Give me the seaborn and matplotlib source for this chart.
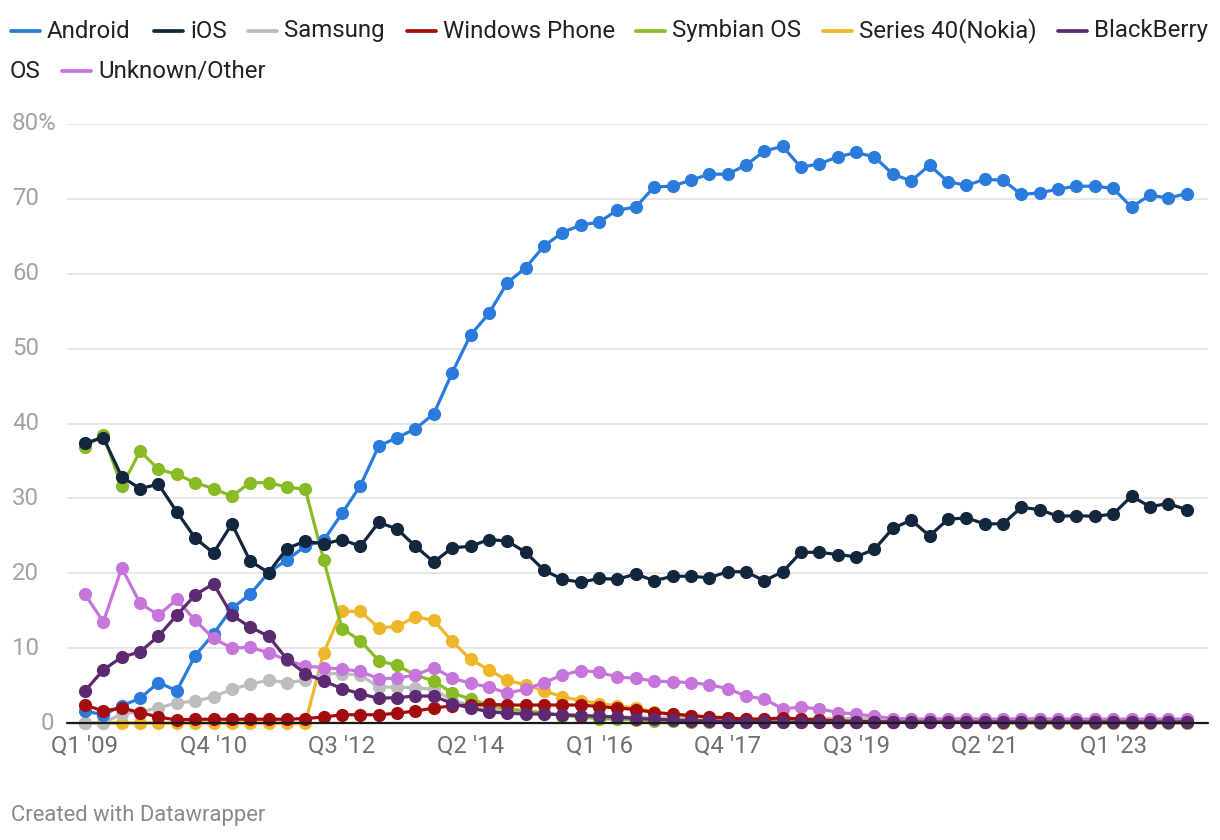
import numpy as np
import pandas as pd
import matplotlib
matplotlib.use("Agg")
import matplotlib.pyplot as plt
import matplotlib.transforms as mtrans
from matplotlib.lines import Line2D
import seaborn as sns

# ---------------- data ----------------
quarters = [f"Q{q} '{y:02d}" for y in range(9, 25) for q in range(1, 5)][:61]
tick_labels = ["Q1 '09", "Q4 '10", "Q3 '12", "Q2 '14", "Q1 '16", "Q4 '17", "Q3 '19", "Q2 '21", "Q1 '23"]

android = [1.6, 1.1, 2.3, 3.3, 5.4, 4.3, 9.0, 11.9, 15.3, 17.2,
           20.1, 21.8, 23.6, 24.4, 28.0, 31.7, 37.0, 38.1, 39.3, 41.3,
           46.8, 51.8, 54.7, 58.8, 60.8, 63.7, 65.5, 66.5, 66.9, 68.5,
           68.9, 71.6, 71.7, 72.5, 73.3, 73.3, 74.5, 76.4, 77.0, 74.2,
           74.7, 75.6, 76.2, 75.6, 73.3, 72.4, 74.5, 72.3, 71.8, 72.6,
           72.5, 70.6, 70.8, 71.3, 71.7, 71.7, 71.4, 68.9, 70.5, 70.1,
           70.7]
ios = [37.4, 38.1, 32.9, 31.3, 31.9, 28.2, 24.7, 22.7, 26.6, 21.6,
       20.1, 23.3, 24.3, 23.9, 24.5, 23.6, 26.8, 25.9, 23.6, 21.5,
       23.4, 23.6, 24.5, 24.3, 22.8, 20.4, 19.2, 18.8, 19.3, 19.2,
       19.9, 19.0, 19.6, 19.6, 19.4, 20.2, 20.2, 19.0, 20.2, 22.8,
       22.8, 22.5, 22.2, 23.2, 26.0, 27.1, 25.0, 27.2, 27.4, 26.6,
       26.6, 28.8, 28.5, 27.6, 27.7, 27.6, 27.9, 30.3, 28.9, 29.3,
       28.5]
samsung = [0.0, 0.0, 1.2, 1.5, 2.0, 2.7, 2.9, 3.5, 4.5, 5.2,
           5.7, 5.4, 5.7, 6.6, 6.6, 6.4, 4.8, 4.8, 4.7, 4.5,
           3.0, 2.4, 1.9, 1.6, 1.4, 1.2, 1.1, 1.0, 0.9, 0.8,
           0.8, 0.7, 0.7, 0.6, 0.6, 0.6, 0.6, 0.6, 0.6, 0.6,
           0.6, 0.6, 0.6, 0.6, 0.6, 0.5, 0.5, 0.6, 0.6, 0.5,
           0.5, 0.6, 0.6, 0.5, 0.5, 0.5, 0.5, 0.5, 0.5, 0.5,
           0.5]
windows = [2.4, 1.6, 2.0, 1.4, 0.8, 0.4, 0.5, 0.5, 0.5, 0.5,
           0.5, 0.5, 0.6, 0.8, 1.1, 1.1, 1.1, 1.3, 1.6, 2.0,
           2.3, 2.4, 2.5, 2.4, 2.4, 2.4, 2.4, 2.4, 2.2, 2.0,
           1.8, 1.4, 1.2, 1.0, 0.8, 0.7, 0.5, 0.5, 0.7, 0.5,
           0.4, 0.3, 0.2, 0.2, 0.1, 0.1, 0.1, 0.1, 0.1, 0.1,
           0.1, 0.1, 0.1, 0.1, 0.1, 0.1, 0.1, 0.1, 0.1, 0.1,
           0.1]
symbian = [36.9, 38.5, 31.6, 36.3, 33.9, 33.2, 32.1, 31.3, 30.3, 32.1,
           32.1, 31.5, 31.2, 21.8, 12.6, 11.0, 8.3, 7.7, 6.4, 5.6,
           4.0, 3.2, 2.4, 1.9, 1.6, 1.4, 1.0, 0.8, 0.6, 0.5,
           0.4, 0.3, 0.3, 0.2, 0.2, 0.2, 0.1, 0.1, 0.1, 0.1,
           0.1, 0.1, 0.1, 0.1, 0.1, 0.1, 0.1, 0.1, 0.1, 0.1,
           0.0, 0.0, 0.0, 0.0, 0.0, 0.0, 0.0, 0.0, 0.0, 0.0,
           0.0]
series40 = [0.0, 0.0, 0.0, 0.0, 0.0, 0.0, 0.0, 0.0, 0.0, 0.0,
            0.0, 0.0, 0.0, 9.4, 14.9, 14.9, 12.7, 12.9, 14.2, 13.7,
            10.9, 8.5, 7.1, 5.7, 5.1, 4.3, 3.5, 3.0, 2.6, 2.3,
            2.0, 1.5, 1.1, 0.9, 0.7, 0.5, 0.4, 0.3, 0.3, 0.2,
            0.2, 0.1, 0.1, 0.1, 0.1, 0.1, 0.1, 0.1, 0.1, 0.1,
            0.1, 0.1, 0.1, 0.1, 0.1, 0.1, 0.1, 0.1, 0.1, 0.1,
            0.1]
blackberry = [4.3, 7.1, 8.8, 9.5, 11.6, 14.4, 17.1, 18.6, 14.4, 12.8,
              11.6, 8.5, 6.6, 5.6, 4.6, 3.9, 3.3, 3.4, 3.6, 3.6,
              2.6, 2.0, 1.5, 1.3, 1.2, 1.2, 1.1, 1.0, 0.9, 0.8,
              0.6, 0.5, 0.4, 0.3, 0.3, 0.2, 0.2, 0.1, 0.1, 0.1,
              0.1, 0.1, 0.1, 0.1, 0.1, 0.1, 0.1, 0.1, 0.1, 0.1,
              0.1, 0.1, 0.1, 0.1, 0.1, 0.1, 0.1, 0.1, 0.1, 0.1,
              0.1]
unknown = [17.2, 13.5, 20.7, 16.0, 14.4, 16.5, 13.7, 11.3, 10.0, 10.1,
           9.4, 8.4, 7.6, 7.4, 7.2, 6.9, 5.9, 6.0, 6.4, 7.4,
           6.0, 5.3, 4.8, 4.0, 4.5, 5.4, 6.4, 7.0, 6.8, 6.1,
           6.0, 5.6, 5.5, 5.4, 5.1, 4.6, 3.6, 3.2, 1.9, 2.1,
           1.9, 1.4, 1.2, 0.9, 0.6, 0.5, 0.5, 0.5, 0.5, 0.5,
           0.5, 0.5, 0.5, 0.5, 0.5, 0.5, 0.5, 0.5, 0.5, 0.5,
           0.5]

series_names = ["Android", "iOS", "Samsung", "Windows Phone", "Symbian OS",
                "Series 40(Nokia)", "BlackBerry OS", "Unknown/Other"]
series_values = [android, ios, samsung, windows, symbian, series40, blackberry, unknown]
colors = {"Android": "#2b7bdd", "iOS": "#12263d", "Samsung": "#bdbdbd",
          "Windows Phone": "#a30d0d", "Symbian OS": "#89bb26",
          "Series 40(Nokia)": "#efb62a", "BlackBerry OS": "#5d2a72",
          "Unknown/Other": "#c676da"}
zorders = {"Series 40(Nokia)": 2, "Samsung": 3, "Symbian OS": 4, "Android": 5,
           "Unknown/Other": 6, "iOS": 7, "Windows Phone": 8, "BlackBerry OS": 9}

frames = []
for name, vals in zip(series_names, series_values):
    frames.append(pd.DataFrame({"quarter": quarters, "idx": np.arange(len(vals)),
                                "value": vals, "os": name}))
df = pd.concat(frames, ignore_index=True)

# ---------------- figure ----------------
sns.set_theme(style="white")
plt.rcParams["font.family"] = ["Roboto", "DejaVu Sans"]

FS = 17.3
W, H = 1220, 840
fig = plt.figure(figsize=(W / 100, H / 100), dpi=100)
fig.patch.set_facecolor("white")

x_left_px, x_right_px = 67, 1208
y_zero_px, y_80_px = 723, 124
ax = fig.add_axes([x_left_px / W, 1 - y_zero_px / H,
                   (x_right_px - x_left_px) / W, (y_zero_px - y_80_px) / H])
step = (1186.6 - 85) / 60.0
ax.set_xlim(-(85 - x_left_px) / step, 60 + (x_right_px - 1186.6) / step)
ax.set_ylim(0, 80)

for name in sorted(series_names, key=lambda n: zorders[n]):
    sub = df[df["os"] == name]
    sns.lineplot(data=sub, x="idx", y="value", ax=ax, color=colors[name],
                 linewidth=2.3, marker="o", markersize=9.5, markeredgewidth=0,
                 zorder=zorders[name], clip_on=False, legend=False)

for s in ax.spines.values():
    s.set_visible(False)

# gridlines
for v in range(10, 90, 10):
    ax.axhline(v, color="#e5e5e5", lw=1.3, zorder=0)
ax.axhline(0, color="#1a1a1a", lw=1.6, zorder=20, clip_on=False)

# x ticks
tick_pos = [quarters.index(t) for t in tick_labels]
ax.set_xticks(tick_pos)
ax.set_xticklabels(tick_labels, fontsize=FS, color="#6f6f6f")
ax.tick_params(axis="x", length=0, pad=8)
ax.set_yticks([])
ax.set_xlabel("")
ax.set_ylabel("")

# y labels
tr = mtrans.blended_transform_factory(fig.transFigure, ax.transData)
for v in range(10, 90, 10):
    lab = f"{v}%" if v == 80 else f"{v}"
    ax.text(12 / W, v, lab, transform=tr, ha="left", va="center",
            fontsize=FS, color="#a3a3a3")
ax.text(54 / W, 0, "0", transform=tr, ha="right", va="center",
        fontsize=FS, color="#a3a3a3")

# legend (manual, wrapped like the reference)
legend_items = [("Android", 10, 31), ("iOS", 153, 31), ("Samsung", 247, 31),
                ("Windows Phone", 406, 31), ("Symbian OS", 635, 31),
                ("Series 40(Nokia)", 822, 31), ("BlackBerry", 1057, 31),
                ("Unknown/Other", 61, 71)]
for label, lx, ly in legend_items:
    key = "BlackBerry OS" if label == "BlackBerry" else label
    fig.add_artist(Line2D([(lx + 1) / W, (lx + 30) / W], [1 - ly / H, 1 - ly / H],
                          color=colors[key], lw=2.7, solid_capstyle="round",
                          transform=fig.transFigure))
    fig.text((lx + 37) / W, 1 - ly / H, label, ha="left", va="center",
             fontsize=FS, color="#222222")
fig.text(10 / W, 1 - 71 / H, "OS", ha="left", va="center",
         fontsize=FS, color="#222222")

fig.text(11 / W, 1 - 816 / H, "Created with Datawrapper", ha="left",
         va="center", fontsize=15.8, color="#8a8a8a")

fig.savefig("out.png", dpi=100, facecolor="white")
